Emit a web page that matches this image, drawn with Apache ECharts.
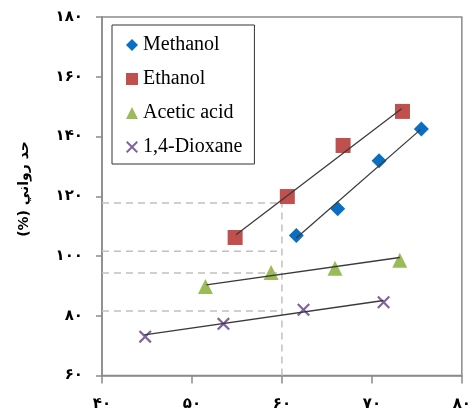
<!DOCTYPE html>
<html>
<head>
<meta charset="utf-8">
<script src="https://cdn.jsdelivr.net/npm/echarts@6/dist/echarts.min.js"></script>
<style>html,body{margin:0;padding:0;background:#fff}#c{width:474px;height:412px}</style>
</head>
<body>
<div id="c"></div>
<script>
// ---- data ----
var seriesNames = ['Methanol', 'Ethanol', 'Acetic acid', '1,4-Dioxane'];
var methanolX = [61.6, 66.2, 70.8, 75.5];
var methanolY = [106.9, 115.8, 131.9, 142.5];
var ethanolX = [54.8, 60.6, 66.8, 73.4];
var ethanolY = [106.2, 119.9, 137.0, 148.4];
var aceticX = [51.5, 58.8, 65.9, 73.1];
var aceticY = [89.8, 94.5, 95.9, 98.6];
var dioxaneX = [44.8, 53.5, 62.4, 71.3];
var dioxaneY = [73.0, 77.3, 82.0, 84.5];
// trend line endpoints
var methanolTrendX = [61.6, 75.4], methanolTrendY = [106.0, 142.3];
var ethanolTrendX = [54.9, 73.3], ethanolTrendY = [107.1, 149.3];
var aceticTrendX = [51.6, 73.1], aceticTrendY = [90.3, 99.5];
var dioxaneTrendX = [44.7, 71.3], dioxaneTrendY = [73.6, 85.1];
// dashed reference lines
var refX = 60;
var refY = [117.7, 101.6, 94.3, 81.6];
// tick labels
var xTickValues = [40, 50, 60, 70, 80];
var xTickLabels = ['۴۰', '۵۰', '۶۰', '۷۰', '۸۰'];
var yTickValues = [60, 80, 100, 120, 140, 160, 180];
var yTickLabels = ['۶۰', '۸۰', '۱۰۰', '۱۲۰', '۱۴۰', '۱۶۰', '۱۸۰'];
var yAxisTitle = 'حد رواني (%)';

function pairs(xs, ys) { return xs.map(function (x, i) { return [x, ys[i]]; }); }
function lbl(vals, labels) { return function (v) { var i = vals.indexOf(Math.round(v)); return i >= 0 ? labels[i] : ''; }; }

var crossPath = 'path://M0,1.2L1.2,0L5,3.8L8.8,0L10,1.2L6.2,5L10,8.8L8.8,10L5,6.2L1.2,10L0,8.8L3.8,5Z';

var colors = ['#0A6FC2', '#C0504D', '#9BBB59', '#8064A2'];
var symbols = ['diamond', 'rect', 'triangle', crossPath];
var sizes = [15, 15, 15, 13];
var pts = [pairs(methanolX, methanolY), pairs(ethanolX, ethanolY), pairs(aceticX, aceticY), pairs(dioxaneX, dioxaneY)];
var trends = [pairs(methanolTrendX, methanolTrendY), pairs(ethanolTrendX, ethanolTrendY), pairs(aceticTrendX, aceticTrendY), pairs(dioxaneTrendX, dioxaneTrendY)];

var series = [];
refY.forEach(function (y, i) {
  series.push({ type: 'line', name: 'ref' + i, data: [[40, y], [refX, y]], showSymbol: false, silent: true,
    lineStyle: { color: '#c0c0c0', width: 1.5, type: [7, 5] }, z: 1 });
});
series.push({ type: 'line', name: 'refv', data: [[refX, 60], [refX, refY[0]]], showSymbol: false, silent: true,
  lineStyle: { color: '#c0c0c0', width: 1.5, type: [7, 5] }, z: 1 });
seriesNames.forEach(function (n, i) {
  series.push({ type: 'scatter', name: n, data: pts[i], symbol: symbols[i], symbolSize: sizes[i],
    itemStyle: { color: colors[i], opacity: 1 }, z: 2 });
});
trends.forEach(function (t, i) {
  series.push({ type: 'line', name: 'trend' + i, data: t, showSymbol: false, silent: true,
    lineStyle: { color: '#3a3a3a', width: 1.3 }, z: 3 });
});

var chart = echarts.init(document.getElementById('c'));
chart.setOption({
  animation: false,
  backgroundColor: '#fff',
  grid: { left: 102, right: 11, top: 17, bottom: 36.5, show: true, borderColor: '#8a8a8a', borderWidth: 1.5 },
  legend: {
    data: seriesNames.map(function (n, i) { return { name: n, icon: symbols[i] }; }),
    orient: 'vertical', left: 112, top: 25, itemWidth: 12, itemHeight: 12, itemGap: 14,
    padding: [10, 12, 7, 14], borderColor: '#333', borderWidth: 1, backgroundColor: '#fff',
    textStyle: { fontFamily: 'Liberation Serif', fontSize: 20, color: '#000' }
  },
  xAxis: {
    type: 'value', min: 40, max: 80, interval: 10,
    axisLine: { show: true, lineStyle: { color: '#8a8a8a', width: 1.5 } },
    axisTick: { show: true, length: 8, inside: false, lineStyle: { color: '#8a8a8a', width: 1.5 } },
    splitLine: { show: false },
    axisLabel: { margin: 21, formatter: lbl(xTickValues, xTickLabels), fontFamily: 'DejaVu Sans', fontSize: 15, fontWeight: 'bold', color: '#000' }
  },
  yAxis: {
    type: 'value', min: 60, max: 180, interval: 20,
    axisLine: { show: true, lineStyle: { color: '#8a8a8a', width: 1.5 } },
    axisTick: { show: true, length: 6, inside: false, lineStyle: { color: '#8a8a8a', width: 1.5 } },
    splitLine: { show: false },
    axisLabel: { margin: 19, formatter: lbl(yTickValues, yTickLabels), fontFamily: 'DejaVu Sans', fontSize: 15, fontWeight: 'bold', color: '#000' }
  },
  graphic: [{
    type: 'text', x: 24, y: 189, rotation: Math.PI / 2,
    style: { text: '\u2067' + yAxisTitle + '\u2069', font: 'bold 14px "DejaVu Sans"', fill: '#000', align: 'center', verticalAlign: 'middle' }
  }],
  series: series
});
</script>
</body>
</html>
